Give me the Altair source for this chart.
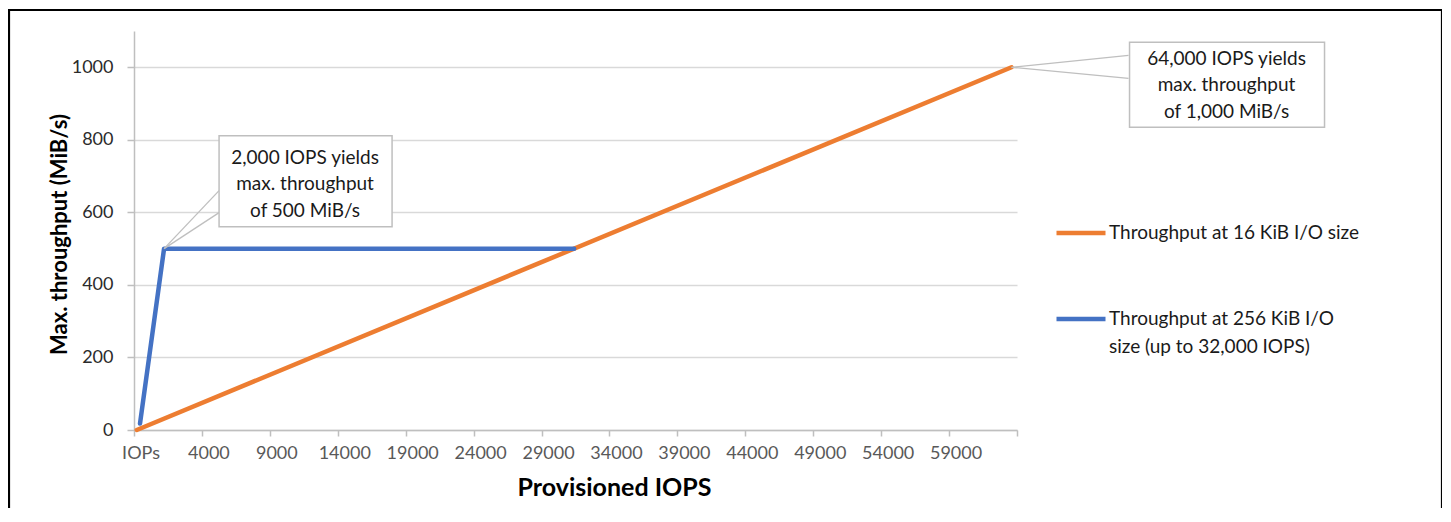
import altair as alt
import numpy as np
import pandas as pd

# ---------------- data ----------------
series_names = [
    "Throughput at 16 KiB I/O size",
    "Throughput at 256 KiB I/O size (up to 32,000 IOPS)",
]
series_legend_lines = [
    ["Throughput at 16 KiB I/O size"],
    ["Throughput at 256 KiB I/O", "size (up to 32,000 IOPS)"],
]
series_colors = ["#ED7D31", "#4472C4"]

orange_iops = [0, 64000]
orange_mibs = [0, 1000]
blue_iops = [240, 2000, 32000]
blue_mibs = [18, 500, 500]

x_tick_labels = ["IOPs", "4000", "9000", "14000", "19000", "24000", "29000",
                 "34000", "39000", "44000", "49000", "54000", "59000", ""]
y_ticks = [0, 200, 400, 600, 800, 1000]

ann_iops = [2000, 64000]
ann_mibs = [500, 1000]
ann_text = [
    ["2,000 IOPS yields", "max. throughput", "of 500 MiB/s"],
    ["64,000 IOPS yields", "max. throughput", "of 1,000 MiB/s"],
]

# ---------------- layout ----------------
FONT = "Lato"
W, H = 883, 399
x_min, x_max = -200, 64400
tick_vals = list(np.linspace(x_min, x_max, len(x_tick_labels)))
step = (x_max - x_min) / (len(x_tick_labels) - 1)
label_arr = "[" + ",".join("'%s'" % s for s in x_tick_labels) + "]"
x_label_expr = f"{label_arr}[round((datum.value - ({x_min})) / {step})]"

leg_expr = "datum.label"
for name, lines_ in zip(series_names, series_legend_lines):
    arr = "[" + ",".join("'%s'" % s for s in lines_) + "]"
    leg_expr = f"datum.label == '{name}' ? {arr} : ({leg_expr})"

df = pd.concat([
    pd.DataFrame({"iops": orange_iops, "mibs": orange_mibs, "series": series_names[0], "k": 0}),
    pd.DataFrame({"iops": blue_iops, "mibs": blue_mibs, "series": series_names[1], "k": 1}),
])

xscale = alt.Scale(domain=[x_min, x_max], nice=False, zero=False)
yscale = alt.Scale(domain=[0, 1100], nice=False)

x_axis = alt.Axis(
    values=tick_vals, labelExpr=x_label_expr, title="Provisioned IOPS",
    titleFont=FONT, titleFontSize=25, titleFontWeight="bold", titleColor="#000000",
    titleX=480, titleY=57, titleBaseline="middle", titleAlign="center",
    labelFont=FONT, labelFontSize=18, labelColor="#595959", labelOffset=6.5,
    labelPadding=8, tickSize=6, tickColor="#bfbfbf", tickWidth=1.5,
    domainColor="#bfbfbf", domainWidth=1.5, grid=False,
    labelFlush=False, labelOverlap=False)
y_axis = alt.Axis(
    values=y_ticks, format="d", title="Max. throughput (MiB/s)",
    titleFont=FONT, titleFontSize=22, titleFontWeight="bold", titleColor="#000000",
    titleX=-75, titleY=203, titleBaseline="middle", titleAlign="center", titleAngle=270,
    labelFont=FONT, labelFontSize=18, labelColor="#2b2b2b", labelPadding=14,
    tickSize=7, tickColor="#bfbfbf", tickWidth=1.5,
    domainColor="#bfbfbf", domainWidth=1.5,
    grid=True, gridColor="#d9d9d9", gridWidth=1.3, labelFlush=False)

lines = alt.Chart(df).mark_line(strokeWidth=4.5, strokeCap="round", strokeJoin="round").encode(
    x=alt.X("iops:Q", scale=xscale, axis=x_axis),
    y=alt.Y("mibs:Q", scale=yscale, axis=y_axis),
    color=alt.Color("series:N", scale=alt.Scale(domain=series_names, range=series_colors),
                    legend=alt.Legend(title=None, orient="none", legendX=920, legendY=175,
                                      symbolType="stroke", symbolSize=2401, symbolStrokeWidth=4.5,
                                      labelFont=FONT, labelFontSize=19, labelColor="#1a1a1a",
                                      labelOffset=1, rowPadding=49, padding=0, labelLimit=400,
                                      labelExpr=leg_expr)),
    order=alt.Order("k:Q"),
)


def annotation(i, box, text_pos, wedge):
    d = pd.DataFrame({"iops": [ann_iops[i]], "mibs": [ann_mibs[i]], "t": [ann_text[i]]})
    c = alt.Chart(d)
    enc = dict(x=alt.X("iops:Q", scale=xscale, axis=x_axis),
               y=alt.Y("mibs:Q", scale=yscale, axis=y_axis))
    rules = [
        c.mark_rule(color="#bfbfbf", strokeWidth=1.3, x2Offset=wx, y2Offset=wy).encode(
            x2="iops:Q", y2="mibs:Q", **enc)
        for (wx, wy) in wedge
    ]
    rect = c.mark_rect(fill="#ffffff", stroke="#bfbfbf", strokeWidth=1.5,
                       xOffset=box[0], x2Offset=box[1], yOffset=box[2], y2Offset=box[3]).encode(
        x2="iops:Q", y2="mibs:Q", **enc)
    txt = c.mark_text(font=FONT, fontSize=19, color="#1a1a1a", align="center", baseline="middle",
                      lineHeight=26.5, dx=text_pos[0], dy=text_pos[1]).encode(text="t", **enc)
    return rules + [rect, txt]


ann1 = annotation(0, box=(55, 228, -113, -22), text_pos=(141, -91), wedge=[(55, -58), (55, -36)])
ann2 = annotation(1, box=(118, 313, -25, 60), text_pos=(215, -8.5), wedge=[(117, -12), (117, 11)])

frame = alt.Chart(pd.DataFrame({"a": [0]})).mark_rect(filled=False, stroke="#000000", strokeWidth=2.2).encode(
    x=alt.value(-125), x2=alt.value(1308), y=alt.value(-21), y2=alt.value(560))

chart = alt.layer(frame, lines, *ann1, *ann2).properties(
    width=W, height=H,
    padding={"left": 126, "top": 23, "right": 425, "bottom": 78},
    autosize=alt.AutoSizeParams(type="none"),
    background="#ffffff",
).configure(
    font=FONT,
    style={"guide-label": {"lineHeight": 27.7}},
).configure_view(strokeWidth=0)

chart.save("out.html", embed_options={"renderer": "svg", "actions": False})
